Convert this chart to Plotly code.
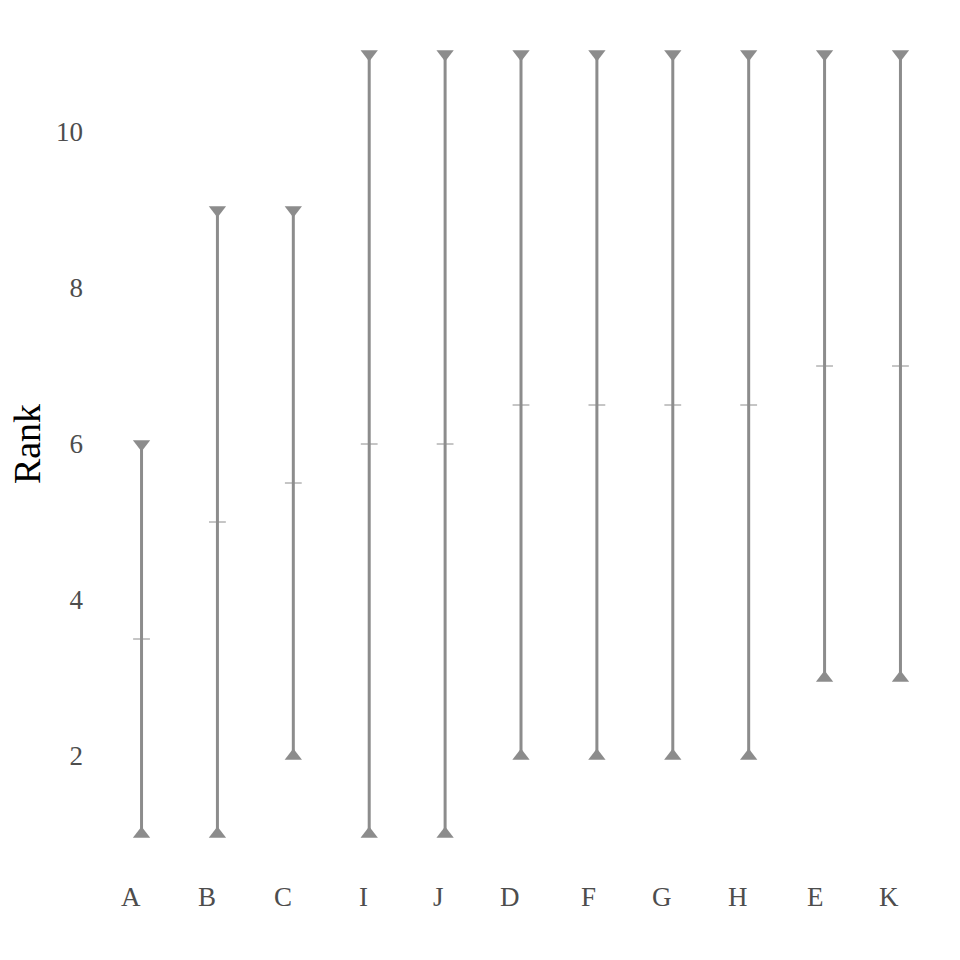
import plotly.graph_objects as go

categories = ["A", "B", "C", "I", "J", "D", "F", "G", "H", "E", "K"]
low_rank = [1, 1, 2, 1, 1, 2, 2, 2, 2, 3, 3]
high_rank = [6, 9, 9, 11, 11, 11, 11, 11, 11, 11, 11]
median_rank = [3.5, 5, 5.5, 6, 6, 6.5, 6.5, 6.5, 6.5, 7, 7]
y_ticks = [2, 4, 6, 8, 10]

GRAY = "#8c8c8c"
FONT = "Liberation Serif"
LABEL_COLOR = "#4d4d4d"

fig = go.Figure()

# vertical range lines
lx, ly = [], []
for c, lo, hi in zip(categories, low_rank, high_rank):
    lx += [c, c, None]
    ly += [lo, hi, None]
fig.add_trace(go.Scatter(x=lx, y=ly, mode="lines",
                         line=dict(color=GRAY, width=3), hoverinfo="skip",
                         showlegend=False))

fig.add_trace(go.Scatter(x=categories, y=low_rank, mode="markers",
                         marker=dict(symbol="triangle-up", size=15, color=GRAY),
                         showlegend=False))
fig.add_trace(go.Scatter(x=categories, y=high_rank, mode="markers",
                         marker=dict(symbol="triangle-down", size=15, color=GRAY),
                         showlegend=False))
fig.add_trace(go.Scatter(x=categories, y=median_rank, mode="markers",
                         marker=dict(symbol="line-ew", size=12,
                                     line=dict(color=GRAY, width=1)),
                         showlegend=False))

# category labels, right-aligned to each category position
for c in categories:
    fig.add_annotation(x=c, xref="x", y=0, yref="paper", text=c,
                       showarrow=False, xanchor="right", yanchor="top",
                       xshift=1, yshift=-7,
                       font=dict(family=FONT, size=27, color=LABEL_COLOR))

fig.update_layout(
    width=960, height=960,
    margin=dict(l=96, r=14, t=15, b=87),
    paper_bgcolor="white", plot_bgcolor="white",
    font=dict(family=FONT, size=27, color=LABEL_COLOR),
    xaxis=dict(type="category", categoryorder="array", categoryarray=categories,
               range=[-0.6, len(categories) - 0.4],
               showgrid=False, zeroline=False, showline=False, ticks="",
               showticklabels=False),
    yaxis=dict(range=[0.5, 11.5], tickvals=y_ticks,
               showgrid=False, zeroline=False, showline=False, ticks="",
               ticklabelstandoff=12,
               tickfont=dict(family=FONT, size=27, color=LABEL_COLOR),
               title=dict(text="Rank", font=dict(family=FONT, size=38, color="black"),
                          standoff=3)),
)

fig.write_html("out.html")
